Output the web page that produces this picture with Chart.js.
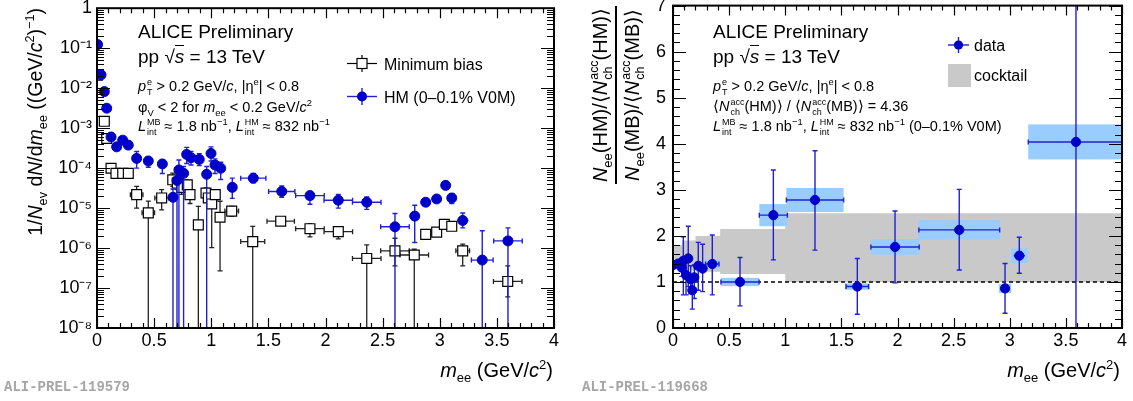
<!DOCTYPE html>
<html>
<head>
<meta charset="utf-8">
<script src="https://cdn.jsdelivr.net/npm/chart.js@4.4.0/dist/chart.umd.min.js"></script>
<style>
  body { margin: 0; width: 1133px; height: 401px; position: relative; overflow: hidden; background: #fff;
         font-family: "Liberation Sans", Arial, Helvetica, sans-serif; color: #000; }
  canvas { position: absolute; top: 0; }
  .t { position: absolute; white-space: nowrap; line-height: 1; }
  .big { font-size: 19px; }
  .sm { font-size: 14.5px; }
  .leg { font-size: 16px; }
  .xt { font-size: 20px; }
  .u1 { position: relative; top: -0.65em; font-size: 0.65em; }
  .d1 { position: relative; top: 0.4em; font-size: 0.65em; }
  .st { display: inline-grid; font-size: 0.62em; margin-left: 1px; }
  .st > span { grid-area: 1 / 1; position: relative; }
  .st > .u { top: -0.72em; }
  .st > .d { top: 0.42em; }
  .ov { border-top: 1.3px solid #000; }
  .rot { position: absolute; transform-origin: 0 0; transform: rotate(-90deg); display: flex;
         justify-content: flex-end; align-items: flex-start; white-space: nowrap; }
  .frac { display: flex; flex-direction: column; align-items: center; font-size: 20px; }
  .frac > .nd { line-height: 30px; height: 30px; padding: 0 2px; }
  .frac > .bar { align-self: stretch; height: 1.5px; background: #000; }
  .tag { position: absolute; font-family: "Liberation Mono", "Courier New", monospace; font-weight: bold;
         font-size: 14px; color: #a6a6a6; line-height: 1; }
</style>
</head>
<body>
<canvas id="spectra" width="566" height="401" style="left:0"></canvas>
<canvas id="ratio" width="567" height="401" style="left:566px"></canvas>

<!-- left panel labels -->
<div class="t big" style="left:138px;top:22px">ALICE Preliminary</div>
<div class="t big" style="left:138px;top:47px">pp √<i class="ov">s</i> = 13 TeV</div>
<div class="t sm" style="left:138px;top:79px"><i>p</i><span class="st"><span class="u">e</span><span class="d">T</span></span> &gt; 0.2 GeV/<i>c</i>, |η<span class="u1">e</span>| &lt; 0.8</div>
<div class="t sm" style="left:138px;top:100px">φ<span class="d1">V</span> &lt; 2 for <i>m</i><span class="d1">ee</span> &lt; 0.2 GeV/<i>c</i><span class="u1">2</span></div>
<div class="t sm" style="left:138px;top:119px"><i>L</i><span class="st"><span class="u">MB</span><span class="d">int</span></span> ≈ 1.8 nb<span class="u1">−1</span>, <i>L</i><span class="st"><span class="u">HM</span><span class="d">int</span></span> ≈ 832 nb<span class="u1">−1</span></div>
<div class="t leg" style="left:384px;top:57px">Minimum bias</div>
<div class="t leg" style="left:384px;top:90px">HM (0–0.1% V0M)</div>
<div class="rot" style="left:26px;top:338px;width:330px;font-size:19.5px;line-height:1">
  <span>1/<i>N</i><span class="d1">ev</span> d<i>N</i>/d<i>m</i><span class="d1">ee</span> ((GeV/<i>c</i><span class="u1">2</span>)<span class="u1">−1</span>)</span>
</div>
<div class="t xt" style="right:580px;top:360px"><i>m</i><span class="d1">ee</span> (GeV/<i>c</i><span class="u1">2</span>)</div>
<div class="tag" style="left:4px;top:380px">ALI-PREL-119579</div>

<!-- right panel labels -->
<div class="t big" style="left:713px;top:22px">ALICE Preliminary</div>
<div class="t big" style="left:713px;top:47px">pp √<i class="ov">s</i> = 13 TeV</div>
<div class="t sm" style="left:713px;top:79px"><i>p</i><span class="st"><span class="u">e</span><span class="d">T</span></span> &gt; 0.2 GeV/<i>c</i>, |η<span class="u1">e</span>| &lt; 0.8</div>
<div class="t sm" style="left:713px;top:99px">⟨<i>N</i><span class="st"><span class="u">acc</span><span class="d">ch</span></span>(HM)⟩ / ⟨<i>N</i><span class="st"><span class="u">acc</span><span class="d">ch</span></span>(MB)⟩ = 4.36</div>
<div class="t sm" style="left:713px;top:119px"><i>L</i><span class="st"><span class="u">MB</span><span class="d">int</span></span> ≈ 1.8 nb<span class="u1">−1</span>, <i>L</i><span class="st"><span class="u">HM</span><span class="d">int</span></span> ≈ 832 nb<span class="u1">−1</span> (0–0.1% V0M)</div>
<div class="t leg" style="left:974px;top:38px">data</div>
<div class="t leg" style="left:974px;top:68px">cocktail</div>
<div class="rot" style="left:585px;top:206px;width:200px">
  <div class="frac">
    <div class="nd"><i>N</i><span class="d1">ee</span>(HM)/⟨<i>N</i><span class="st"><span class="u">acc</span><span class="d">ch</span></span>(HM)⟩</div>
    <div class="bar"></div>
    <div class="nd"><i>N</i><span class="d1">ee</span>(MB)/⟨<i>N</i><span class="st"><span class="u">acc</span><span class="d">ch</span></span>(MB)⟩</div>
  </div>
</div>
<div class="t xt" style="right:13px;top:360px"><i>m</i><span class="d1">ee</span> (GeV/<i>c</i><span class="u1">2</span>)</div>
<div class="tag" style="left:582px;top:380px">ALI-PREL-119668</div>

<!-- legend symbols -->
<svg width="1133" height="401" style="position:absolute;left:0;top:0;pointer-events:none">
  <line x1="347" y1="63.5" x2="377" y2="63.5" stroke="#000" stroke-width="1.2"/>
  <line x1="362" y1="55" x2="362" y2="72" stroke="#000" stroke-width="1.2"/>
  <rect x="357" y="58.5" width="10" height="10" fill="#fff" stroke="#000" stroke-width="1.2"/>
  <line x1="347" y1="96.5" x2="377" y2="96.5" stroke="#2020d0" stroke-width="1.4"/>
  <line x1="362" y1="88" x2="362" y2="105" stroke="#2020d0" stroke-width="1.4"/>
  <circle cx="362" cy="96.5" r="5" fill="#0000c8"/>
  <line x1="948" y1="45" x2="969" y2="45" stroke="#2020d0" stroke-width="1.4"/>
  <line x1="958.5" y1="37" x2="958.5" y2="53" stroke="#2020d0" stroke-width="1.4"/>
  <circle cx="958.5" cy="45" r="4.6" fill="#0000c8"/>
  <rect x="948" y="64" width="23" height="23" fill="#c9c9c9"/>
</svg>

<script>
// ---- dN/dm spectra (left) ----
const hmMass = [0.005, 0.035, 0.064, 0.085, 0.123, 0.172, 0.225, 0.274, 0.347, 0.449, 0.572, 0.665, 0.700, 0.717, 0.758, 0.785, 0.823, 0.895, 0.960, 0.998, 1.033, 1.083, 1.184, 1.368, 1.617, 1.864, 2.112, 2.361, 2.608, 2.781, 2.877, 2.973, 3.052, 3.105, 3.201, 3.372, 3.597];
const hmYield = [0.123, 0.0215, 0.0082, 0.00315, 6.0e-4, 3.4e-4, 5.0e-4, 3.76e-4, 1.75e-4, 1.51e-4, 1.27e-4, 1.86e-5, 4.9e-5, 9.0e-5, 7.4e-5, 2.2e-4, 1.82e-4, 1.65e-4, 7.0e-5, 2.33e-4, 1.2e-4, 9.9e-5, 3.3e-5, 5.6e-5, 2.6e-5, 2.05e-5, 1.57e-5, 1.4e-5, 3.4e-6, 6.3e-6, 1.4e-5, 1.69e-5, 3.7e-5, 1.79e-5, 4.9e-6, 5.0e-7, 1.51e-6];
const hmHigh = [0.13, 0.023, 0.0088, 0.0034, 6.6e-4, 3.9e-4, 5.6e-4, 4.3e-4, 2.6e-4, 1.9e-4, 1.6e-4, 3.0e-5, 8.0e-5, 1.6e-4, 1.1e-4, 3.3e-4, 2.6e-4, 2.3e-4, 1.1e-4, 3.4e-4, 1.7e-4, 1.4e-4, 5.6e-5, 7.3e-5, 3.6e-5, 2.6e-5, 2.2e-5, 1.9e-5, 7.3e-6, 1.18e-5, 1.6e-5, 1.9e-5, 4.1e-5, 2.3e-5, 7.5e-6, 2.7e-6, 3.2e-6];
const hmLow = [0.116, 0.020, 0.0076, 0.0029, 5.4e-4, 2.9e-4, 4.4e-4, 3.2e-4, 1.0e-4, 1.05e-4, 7.3e-5, 0, 0, 0, 0, 1.3e-4, 1.2e-4, 1.15e-4, 0, 1.5e-4, 7.3e-5, 5.2e-5, 1.75e-5, 4.3e-5, 1.85e-5, 1.25e-5, 1.0e-5, 9.3e-6, 0, 1.38e-6, 1.2e-5, 1.5e-5, 3.3e-5, 1.3e-5, 3.2e-6, 0, 0];
const hmBinHalf = [0.005, 0.005, 0.005, 0.005, 0.01, 0.01, 0.01, 0.01, 0.03, 0.03, 0.03, 0.01, 0.01, 0.01, 0.01, 0.01, 0.01, 0.01, 0.01, 0.01, 0.01, 0.01, 0.03, 0.11, 0.115, 0.125, 0.125, 0.125, 0.125, 0.045, 0.045, 0.045, 0.02, 0.03, 0.05, 0.095, 0.125];

const mbMass = [0.003, 0.064, 0.085, 0.123, 0.166, 0.225, 0.274, 0.347, 0.449, 0.566, 0.663, 0.703, 0.741, 0.790, 0.814, 0.887, 0.954, 0.974, 1.004, 1.035, 1.077, 1.179, 1.363, 1.608, 1.864, 2.112, 2.361, 2.608, 2.777, 2.877, 2.973, 3.040, 3.105, 3.201, 3.595];
const mbYield = [0.021, 1.48e-3, 5.5e-4, 9.9e-5, 7.4e-5, 7.4e-5, 7.4e-5, 2.17e-5, 7.6e-6, 1.79e-5, 5.1e-5, 4.2e-5, 3.3e-5, 3.8e-5, 2.17e-5, 3.8e-6, 2.38e-5, 1.79e-5, 1.27e-5, 2.17e-5, 5.9e-6, 8.4e-6, 1.45e-6, 4.7e-6, 3.05e-6, 2.57e-6, 5.5e-7, 8.5e-7, 6.7e-7, 2.2e-6, 2.5e-6, 3.9e-6, 3.5e-6, 8.5e-7, 1.46e-7];
const mbHigh = [0.023, 1.6e-3, 6.0e-4, 1.1e-4, 8.2e-5, 8.2e-5, 8.2e-5, 3.5e-5, 1.5e-5, 2.9e-5, 7.5e-5, 6.0e-5, 4.5e-5, 5.0e-5, 3.2e-5, 1.1e-5, 3.2e-5, 2.4e-5, 2.6e-5, 2.8e-5, 1.48e-5, 1.1e-5, 3.5e-6, 5.7e-6, 4.1e-6, 3.4e-6, 1.2e-6, 1.76e-6, 9.4e-7, 2.6e-6, 2.9e-6, 4.5e-6, 4.1e-6, 1.25e-6, 3.6e-7];
const mbLow = [0.019, 1.37e-3, 5.0e-4, 9.0e-5, 6.6e-5, 6.6e-5, 6.6e-5, 1.0e-5, 0, 9.0e-6, 3.5e-5, 2.9e-5, 2.2e-5, 2.8e-5, 1.3e-5, 0, 1.5e-5, 1.2e-5, 1.03e-6, 1.6e-5, 2.7e-7, 6.3e-6, 0, 3.9e-6, 1.9e-6, 1.7e-6, 0, 3.6e-7, 0, 1.9e-6, 2.2e-6, 3.4e-6, 3.0e-6, 3.6e-7, 6e-8];
const mbBinHalf = [0.005, 0.005, 0.005, 0.005, 0.005, 0.005, 0.005, 0.055, 0.055, 0.06, 0.01, 0.01, 0.01, 0.01, 0.01, 0.01, 0.01, 0.01, 0.01, 0.01, 0.01, 0.06, 0.105, 0.12, 0.125, 0.125, 0.125, 0.125, 0.125, 0.04, 0.04, 0.04, 0.04, 0.06, 0.125];

const yieldTicks = [1e-8, 1e-7, 1e-6, 1e-5, 1e-4, 1e-3, 1e-2, 1e-1, 1];

// ---- HM / MB ratio (right) ----
const ratioMass = [0.003, 0.047, 0.078, 0.092, 0.116, 0.136, 0.158, 0.172, 0.19, 0.225, 0.264, 0.35, 0.597, 0.894, 1.265, 1.642, 1.978, 2.55, 2.958, 3.085, 3.59];
const ratioValue = [1.37, 1.40, 1.31, 1.46, 1.15, 1.51, 1.06, 0.82, 1.10, 1.35, 1.29, 1.39, 1.00, 2.45, 2.78, 0.90, 1.76, 2.13, 0.86, 1.57, 4.04];
const ratioHigh = [1.43, 1.47, 1.50, 1.98, 1.45, 2.21, 1.35, 1.11, 1.37, 1.86, 1.82, 2.02, 1.53, 3.43, 3.85, 1.51, 2.54, 3.01, 1.40, 1.97, 8];
const ratioLow = [1.31, 1.33, 1.12, 0.72, 0.72, 0.90, 0.75, 0.41, 0.64, 0.82, 0.79, 0.72, 0.48, 1.48, 1.69, 0.30, 0.98, 1.26, 0.32, 1.19, -1];
const ratioBinHalf = [0.005, 0.01, 0.01, 0.01, 0.01, 0.01, 0.01, 0.01, 0.01, 0.015, 0.015, 0.06, 0.17, 0.125, 0.255, 0.1, 0.215, 0.36, 0.04, 0.05, 0.425];
const ratioSysHalfX = [0, 0, 0, 0, 0, 0, 0, 0, 0, 0, 0, 0.065, 0.17, 0.125, 0.255, 0.11, 0.215, 0.365, 0.055, 0.075, 0.425];
const ratioSysHalfY = [0, 0, 0, 0, 0, 0, 0, 0, 0, 0, 0, 0.1, 0.09, 0.24, 0.26, 0.07, 0.17, 0.21, 0.1, 0.16, 0.38];

const cocktailEdges = [0, 0.08, 0.2, 0.42, 1.0, 4.0];
const cocktailLow = [1.3, 1.25, 1.22, 1.17, 1.0];
const cocktailHigh = [1.8, 1.9, 2.0, 2.15, 2.49];

const massTicks = [0, 0.5, 1, 1.5, 2, 2.5, 3, 3.5, 4];
const ratioTicks = [0, 1, 2, 3, 4, 5, 6, 7];

const family = '"Liberation Sans", Arial, Helvetica, sans-serif';
const blue = '#0000c8';
const barBlue = '#2020d0';
Chart.defaults.font.family = family;
Chart.defaults.color = '#000';

const pts = (xs, ys) => xs.map((x, i) => ({ x, y: ys[i] }));
function bandPoints(edges, vals) {
  const out = [];
  vals.forEach((v, i) => out.push({ x: edges[i], y: v }, { x: edges[i + 1], y: v }));
  return out;
}

const SUP = { '0': '⁰', '1': '¹', '2': '²', '3': '³', '4': '⁴', '5': '⁵', '6': '⁶', '7': '⁷', '8': '⁸', '9': '⁹', '-': '⁻' };
function decadeLabel(v) {
  const e = Math.round(Math.log10(v));
  if (e === 0) return '1';
  return '10' + String(e).split('').map(c => SUP[c]).join('');
}

// stat error bars + systematic boxes, drawn just under their markers
const errorBars = {
  id: 'errorBars',
  beforeDatasetDraw(chart, args) {
    const ds = chart.data.datasets[args.index];
    const e = ds.errors;
    if (!e) return;
    const { ctx, chartArea: a, scales: { x, y } } = chart;
    const isLog = y.type === 'logarithmic';
    ctx.save();
    ctx.beginPath();
    ctx.rect(a.left, a.top, a.right - a.left, a.bottom - a.top);
    ctx.clip();
    if (e.sysX) {
      ctx.fillStyle = e.sysColor;
      ds.data.forEach((p, i) => {
        if (!(e.sysX[i] > 0)) return;
        const x0 = x.getPixelForValue(p.x - e.sysX[i]);
        const x1 = x.getPixelForValue(p.x + e.sysX[i]);
        const y0 = y.getPixelForValue(p.y + e.sysY[i]);
        const y1 = y.getPixelForValue(p.y - e.sysY[i]);
        ctx.fillRect(x0, y0, x1 - x0, y1 - y0);
      });
    }
    ctx.strokeStyle = e.color;
    ctx.lineWidth = e.width;
    ctx.beginPath();
    const cap = 2.5;
    ds.data.forEach((p, i) => {
      const px = x.getPixelForValue(p.x);
      const py = y.getPixelForValue(p.y);
      const top = y.getPixelForValue(e.high[i]);
      const bot = isLog && e.low[i] <= 0 ? a.bottom + 5 : y.getPixelForValue(e.low[i]);
      ctx.moveTo(px, top); ctx.lineTo(px, bot);
      ctx.moveTo(px - cap, top); ctx.lineTo(px + cap, top);
      ctx.moveTo(px - cap, bot); ctx.lineTo(px + cap, bot);
      const x0 = x.getPixelForValue(p.x - e.xHalf[i]);
      const x1 = x.getPixelForValue(p.x + e.xHalf[i]);
      ctx.moveTo(x0, py); ctx.lineTo(x1, py);
      if (x1 - x0 > 12) {
        ctx.moveTo(x0, py - cap); ctx.lineTo(x0, py + cap);
        ctx.moveTo(x1, py - cap); ctx.lineTo(x1, py + cap);
      }
    });
    ctx.stroke();
    ctx.restore();
  }
};

// frame with inward ticks on all four sides
const frameTicks = {
  id: 'frameTicks',
  afterDraw(chart) {
    const { ctx, chartArea: a, scales: { x, y } } = chart;
    ctx.save();
    ctx.strokeStyle = '#000';
    ctx.lineWidth = 1.2;
    ctx.beginPath();
    for (let i = 0; i <= 40; i++) {
      const px = Math.round(x.getPixelForValue(i / 10)) + 0.5;
      const len = i % 5 === 0 ? 10 : 5;
      ctx.moveTo(px, a.bottom); ctx.lineTo(px, a.bottom - len);
      ctx.moveTo(px, a.top); ctx.lineTo(px, a.top + len);
    }
    const yt = [];
    if (y.type === 'logarithmic') {
      for (let e = -8; e < 0; e++) for (let m = 1; m <= 9; m++) yt.push([m * Math.pow(10, e), m === 1]);
      yt.push([1, true]);
    } else {
      for (let i = 0; i <= 35; i++) yt.push([i / 5, i % 5 === 0]);
    }
    yt.forEach(([v, major]) => {
      const py = Math.round(y.getPixelForValue(v)) + 0.5;
      const len = major ? 13 : 7;
      ctx.moveTo(a.left, py); ctx.lineTo(a.left + len, py);
      ctx.moveTo(a.right, py); ctx.lineTo(a.right - len, py);
    });
    ctx.stroke();
    ctx.lineWidth = 2;
    ctx.strokeRect(a.left, a.top, a.right - a.left, a.bottom - a.top);
    ctx.restore();
  }
};

function noPad(s) { s.paddingLeft = 0; s.paddingRight = 0; s.paddingTop = 0; s.paddingBottom = 0; }

function massAxis() {
  return {
    type: 'linear', min: 0, max: 4,
    grid: { display: false, drawTicks: false }, border: { display: false },
    afterBuildTicks: s => { s.ticks = massTicks.map(v => ({ value: v })); },
    afterFit: s => { s.height = 73; noPad(s); },
    ticks: { font: { size: 18 }, color: '#000', padding: 2, maxRotation: 0, autoSkip: false, callback: v => String(v) }
  };
}

new Chart(document.getElementById('spectra'), {
  type: 'scatter',
  data: {
    datasets: [
      {
        label: 'HM (0–0.1% V0M)',
        data: pts(hmMass, hmYield),
        pointStyle: 'circle', pointRadius: 5, pointBackgroundColor: blue, pointBorderColor: blue, pointBorderWidth: 1,
        errors: { high: hmHigh, low: hmLow, xHalf: hmBinHalf, color: barBlue, width: 1.4 }
      },
      {
        label: 'Minimum bias',
        data: pts(mbMass, mbYield),
        pointStyle: 'rect', pointRadius: 7, pointBackgroundColor: '#fff', pointBorderColor: '#000', pointBorderWidth: 1.2,
        errors: { high: mbHigh, low: mbLow, xHalf: mbBinHalf, color: '#222', width: 1.3 }
      }
    ]
  },
  options: {
    responsive: false, animation: false, devicePixelRatio: 1,
    layout: { padding: { top: 5, right: 12, left: 0, bottom: 0 } },
    plugins: { legend: { display: false }, tooltip: { enabled: false } },
    scales: {
      x: massAxis(),
      y: {
        type: 'logarithmic', min: 1e-8, max: 1,
        grid: { display: false, drawTicks: false }, border: { display: false },
        afterBuildTicks: s => { s.ticks = yieldTicks.map(v => ({ value: v })); },
        afterFit: s => { s.width = 97; noPad(s); },
        ticks: { font: { size: 18 }, color: '#000', padding: 5, autoSkip: false, callback: v => decadeLabel(v) }
      }
    }
  },
  plugins: [errorBars, frameTicks]
});

new Chart(document.getElementById('ratio'), {
  type: 'scatter',
  data: {
    datasets: [
      {
        label: 'data',
        data: pts(ratioMass, ratioValue),
        pointStyle: 'circle', pointRadius: 4.6, pointBackgroundColor: blue, pointBorderColor: blue, pointBorderWidth: 1,
        errors: { high: ratioHigh, low: ratioLow, xHalf: ratioBinHalf, sysX: ratioSysHalfX, sysY: ratioSysHalfY,
                  sysColor: 'rgb(153,204,255)', color: barBlue, width: 1.4 }
      },
      {
        type: 'line', label: 'unity',
        data: [{ x: 0, y: 1 }, { x: 4, y: 1 }],
        borderColor: '#000', borderWidth: 1.6, borderDash: [4, 3], pointRadius: 0, fill: false
      },
      {
        type: 'line', label: 'cocktail',
        data: bandPoints(cocktailEdges, cocktailHigh),
        borderColor: 'rgba(0,0,0,0)', borderWidth: 0, pointRadius: 0, backgroundColor: '#c9c9c9', fill: '+1'
      },
      {
        type: 'line', label: 'cocktail low',
        data: bandPoints(cocktailEdges, cocktailLow),
        borderColor: 'rgba(0,0,0,0)', borderWidth: 0, pointRadius: 0, fill: false
      }
    ]
  },
  options: {
    responsive: false, animation: false, devicePixelRatio: 1,
    layout: { padding: { top: 5, right: 11, left: 0, bottom: 0 } },
    plugins: { legend: { display: false }, tooltip: { enabled: false } },
    scales: {
      x: massAxis(),
      y: {
        type: 'linear', min: 0, max: 7,
        grid: { display: false, drawTicks: false }, border: { display: false },
        afterBuildTicks: s => { s.ticks = ratioTicks.map(v => ({ value: v })); },
        afterFit: s => { s.width = 107; noPad(s); },
        ticks: { font: { size: 18 }, color: '#000', padding: 7, autoSkip: false, callback: v => String(v) }
      }
    }
  },
  plugins: [errorBars, frameTicks]
});
</script>
</body>
</html>
